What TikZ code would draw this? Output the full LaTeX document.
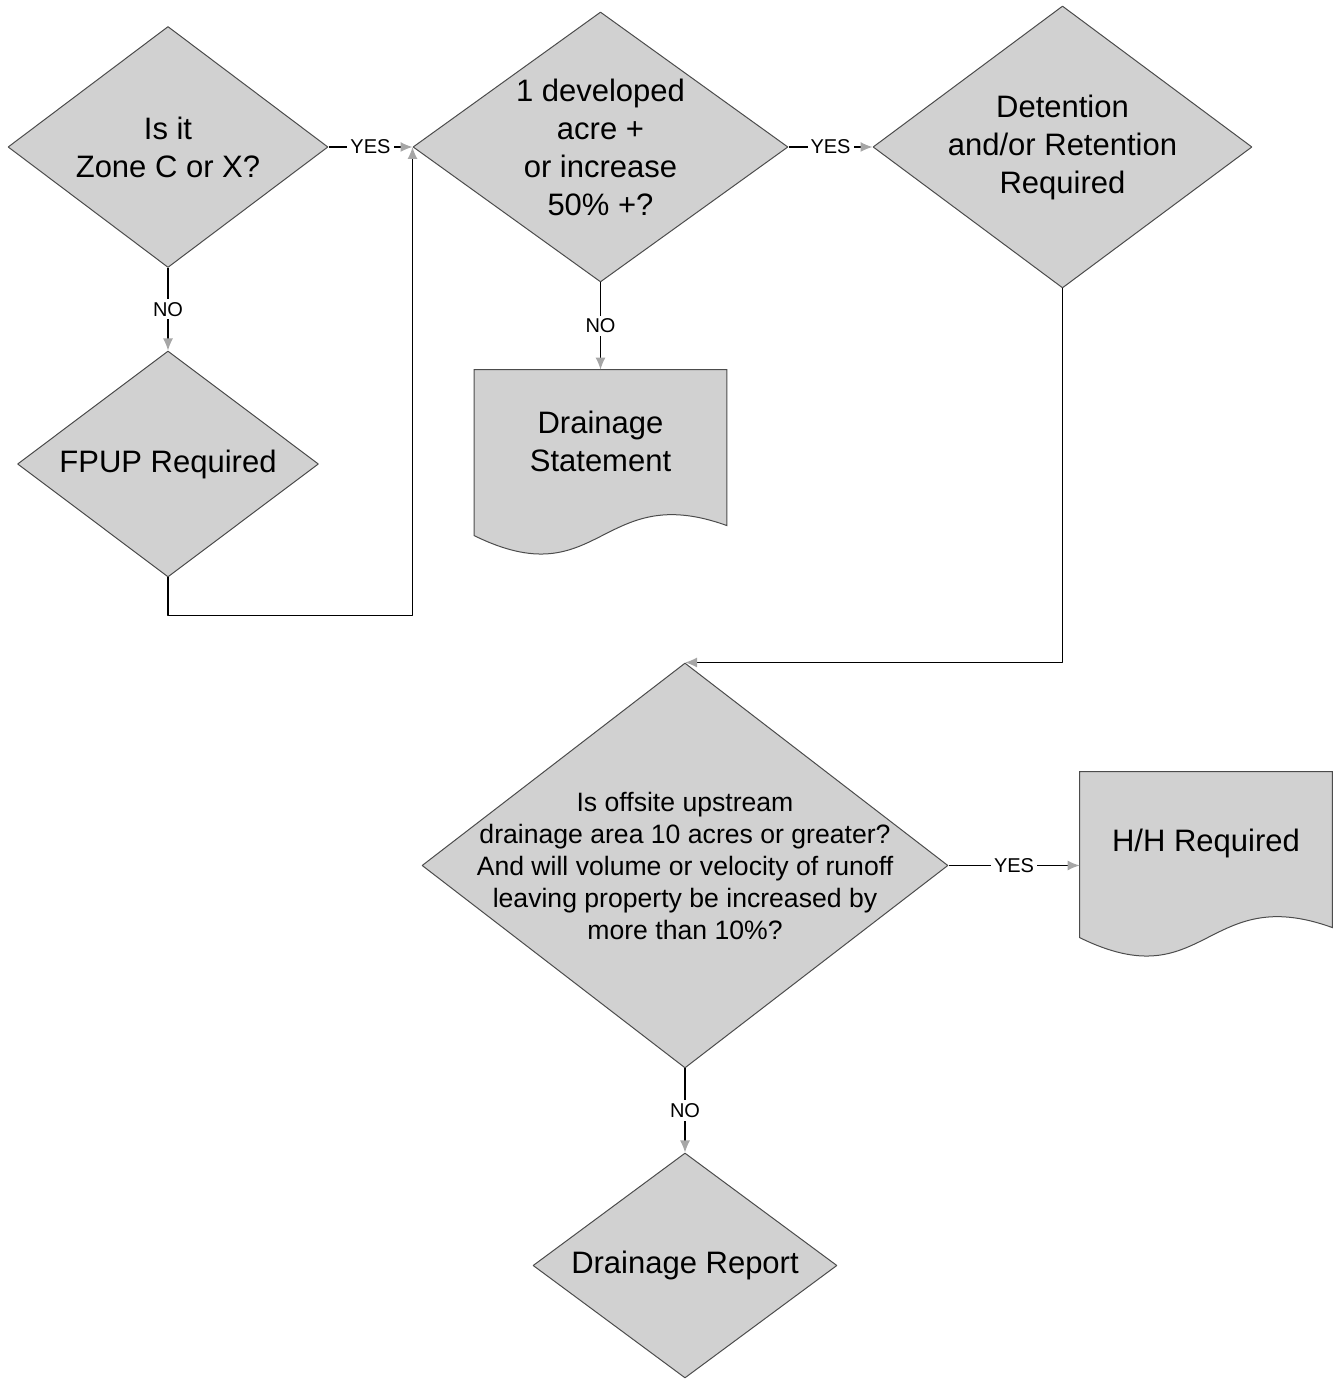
\documentclass[tikz,border=0pt]{standalone}
\usepackage{fontspec}
\setmainfont{Liberation Sans}
\usetikzlibrary{shapes.geometric,arrows.meta,backgrounds}

\begin{document}
\begin{tikzpicture}[>={Latex[length=6bp,width=5bp,color=gray!70]},line join=bevel,
  decision/.style={diamond,draw=black!70,fill=gray!36,line width=.5bp,inner sep=0pt},
  qtext/.style={align=center,inner sep=0pt,font=\fontsize{15.5bp}{19bp}\selectfont},
  longtext/.style={align=center,inner sep=0pt,font=\fontsize{13.3bp}{16bp}\selectfont},
  docnode/.style={rectangle,minimum width=126bp,minimum height=71bp,inner sep=0pt,align=center,font=\fontsize{15.5bp}{19bp}\selectfont},
  docshape/.style={draw=black!70,fill=gray!36,line width=.5bp},
  flow/.style={->,line width=.6bp},
  answer/.style={fill=white,inner sep=1.5bp,font=\fontsize{10bp}{12bp}\selectfont}]
  \useasboundingbox (0bp,0bp) rectangle (668bp,690bp);
%%
  % Node: Zone
  \node[decision,minimum width=160bp,minimum height=120.5bp,label={[qtext]center:Is it\\Zone C or X?}] (zone) at (84bp,616.5bp) {};
  % Node: Acre
  \node[decision,minimum width=187.5bp,minimum height=135bp,label={[qtext]center:1 developed\\acre +\\or increase\\50\% +?}] (acre) at (300.25bp,616.5bp) {};
  % Node: Detention
  \node[decision,minimum width=189.5bp,minimum height=141bp,label={[qtext]center:Detention\\and/or Retention\\Required}] (detn) at (531.25bp,616.5bp) {};
  % Node: FPUP
  \node[decision,minimum width=150.5bp,minimum height=113bp,label={[qtext]center:FPUP Required}] (fpup) at (84bp,458bp) {};
  % Node: Statement
  \node[docnode] (stmt) at (300.25bp,469.5bp) {Drainage\\Statement};
  % Node: Runoff
  \node[decision,minimum width=263bp,minimum height=202.5bp,label={[longtext]center:Is offsite upstream\\drainage area 10 acres or greater?\\And will volume or velocity of runoff\\leaving property be increased by\\more than 10\%?}] (runoff) at (342.5bp,257.25bp) {};
  % Node: HH
  \node[docnode] (hh) at (603bp,268.5bp) {H/H Required};
  % Node: Report
  \node[decision,minimum width=152bp,minimum height=112.5bp,label={[qtext]center:Drainage Report}] (report) at (342.5bp,57.25bp) {};
%
\begin{scope}[on background layer]
  \draw[docshape] (stmt.north west) -- (stmt.north east) -- ([yshift=-78bp]stmt.north east)
    .. controls ([shift={(63bp,-55bp)}]stmt.north west) and ([shift={(63bp,-114bp)}]stmt.north west) .. ([yshift=-83bp]stmt.north west) -- cycle;
  \draw[docshape] (hh.north west) -- (hh.north east) -- ([yshift=-78bp]hh.north east)
    .. controls ([shift={(63bp,-55bp)}]hh.north west) and ([shift={(63bp,-114bp)}]hh.north west) .. ([yshift=-83bp]hh.north west) -- cycle;
\end{scope}
%%
  % Edge: Zone -> Acre
  \draw[flow] (zone.east) -- node[answer] {YES} (acre.west);
  % Edge: Zone -> FPUP
  \draw[flow] (zone.south) -- node[answer] {NO} (fpup.north);
  % Edge: FPUP -> Acre
  \draw[flow] (fpup.south) -- ++(0,-19bp) -| (acre.west);
  % Edge: Acre -> Detention
  \draw[flow] (acre.east) -- node[answer] {YES} (detn.west);
  % Edge: Acre -> Statement
  \draw[flow] (acre.south) -- node[answer] {NO} (stmt.north);
  % Edge: Detention -> Runoff
  \draw[flow] (detn.south) |- (runoff.north);
  % Edge: Runoff -> HH
  \draw[flow] (runoff.east) -- node[answer] {YES} (runoff.east -| hh.west);
  % Edge: Runoff -> Report
  \draw[flow] (runoff.south) -- node[answer] {NO} (report.north);
%
\end{tikzpicture}
\end{document}
